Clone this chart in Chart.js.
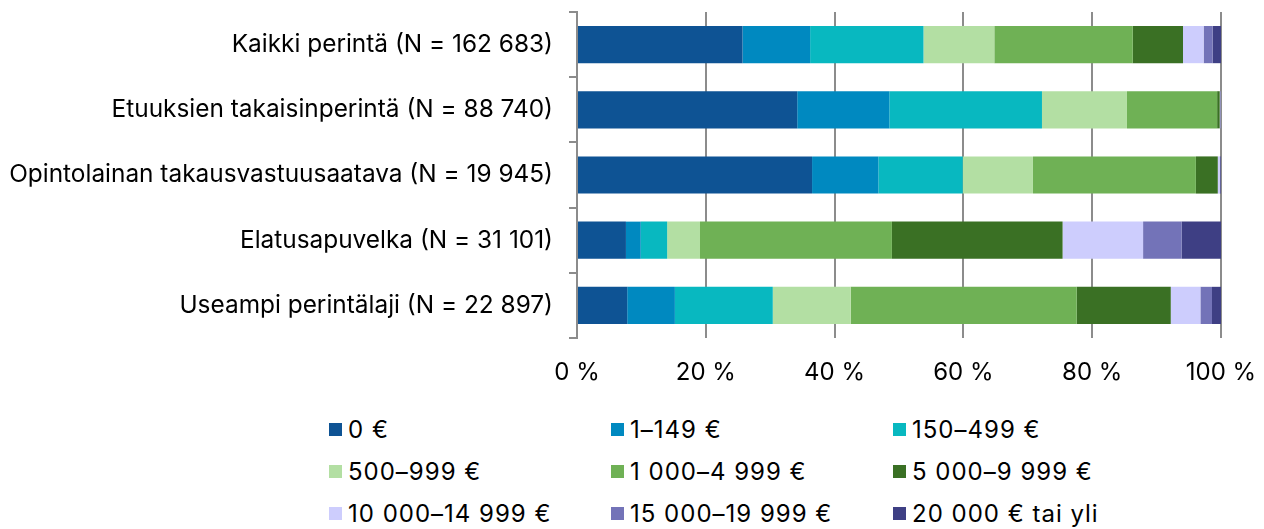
<!DOCTYPE html>
<html>
<head>
<meta charset="utf-8">
<script src="https://cdn.jsdelivr.net/npm/chart.js@4/dist/chart.umd.min.js"></script>
<style>
    body { margin: 0; background: #fff; font-family: Inter, "Noto Sans", sans-serif; }
    #wrap { position: relative; width: 1264px; height: 529px; }
    #legend {
        position: absolute; left: 329px; top: 415px;
        display: grid; grid-template-columns: 282px 282px 282px;
        row-gap: 14px; font-size: 24px; letter-spacing: 1px; color: #000;
    }
    .item { display: flex; align-items: center; height: 28px; white-space: nowrap; }
    .box { width: 13px; height: 13px; margin-right: 6px; flex: none; }
</style>
</head>
<body>
<div id="wrap">
    <canvas id="chart" width="1264" height="400"></canvas>
    <div id="legend"></div>
</div>
<script>
// Categories (rows) and debt bands
const categories = [
    "Kaikki perintä (N = 162 683)",
    "Etuuksien takaisinperintä (N = 88 740)",
    "Opintolainan takausvastuusaatava (N = 19 945)",
    "Elatusapuvelka (N = 31 101)",
    "Useampi perintälaji (N = 22 897)"
];
const bands = ["0 €", "1–149 €", "150–499 €", "500–999 €", "1 000–4 999 €",
    "5 000–9 999 €", "10 000–14 999 €", "15 000–19 999 €", "20 000 € tai yli"];
const colors = ["#0E5394", "#0089C0", "#08B8C0", "#B3DFA3", "#6FB155",
    "#3A7024", "#CDCDFD", "#7373B8", "#3E3F84"];

// Shares (%) per band, one value per category
const band0 = [25.7, 34.2, 36.5, 7.6, 7.8];
const band1 = [10.5, 14.3, 10.3, 2.3, 7.4];
const band2 = [17.6, 23.7, 13.1, 4.1, 15.2];
const band3 = [11.0, 13.2, 10.9, 5.1, 12.1];
const band4 = [21.5, 14.0, 25.3, 29.8, 35.1];
const band5 = [7.8, 0.4, 3.4, 26.5, 14.6];
const band6 = [3.2, 0.1, 0.3, 12.5, 4.6];
const band7 = [1.4, 0.05, 0.1, 6.0, 1.8];
const band8 = [1.3, 0.05, 0.1, 6.1, 1.4];
const xTicks = [0, 20, 40, 60, 80, 100];

const seriesValues = [band0, band1, band2, band3, band4, band5, band6, band7, band8];
const fontFamily = "Inter, 'Noto Sans', sans-serif";
const gridColor = "#8c8c8c";

new Chart(document.getElementById("chart"), {
    type: "bar",
    data: {
        labels: categories,
        datasets: bands.map((b, i) => ({
            label: b,
            data: seriesValues[i],
            backgroundColor: colors[i],
            borderWidth: 0,
            barPercentage: 0.57,
            categoryPercentage: 1
        }))
    },
    options: {
        indexAxis: "y",
        responsive: false,
        animation: false,
        layout: { padding: { top: 12, right: 43, left: 0, bottom: 0 } },
        plugins: { legend: { display: false }, tooltip: { enabled: false } },
        scales: {
            x: {
                stacked: true, min: 0, max: 100,
                afterBuildTicks: s => { s.ticks = xTicks.map(v => ({ value: v })); },
                afterFit: s => { s.height = 62; s.paddingLeft = 0; s.paddingRight = 0; },
                grid: { color: gridColor, lineWidth: 2, drawTicks: false },
                border: { display: false },
                ticks: { color: "#000", font: { family: fontFamily, size: 24 }, padding: 20, callback: v => v + " %" }
            },
            y: {
                stacked: true,
                afterFit: s => { s.width = 577; s.paddingTop = 0; s.paddingBottom = 0; },
                grid: { offset: true, drawOnChartArea: false, color: gridColor, lineWidth: 2, tickLength: 8 },
                border: { display: true, color: gridColor, width: 2 },
                ticks: { color: "#000", font: { family: fontFamily, size: 24.4 }, padding: 16 }
            }
        }
    }
});

// Legend in three fixed columns
const legend = document.getElementById("legend");
bands.forEach((b, i) => {
    const item = document.createElement("div");
    item.className = "item";
    item.innerHTML = `<span class="box" style="background:${colors[i]}"></span><span>${b}</span>`;
    legend.appendChild(item);
});
</script>
</body>
</html>
